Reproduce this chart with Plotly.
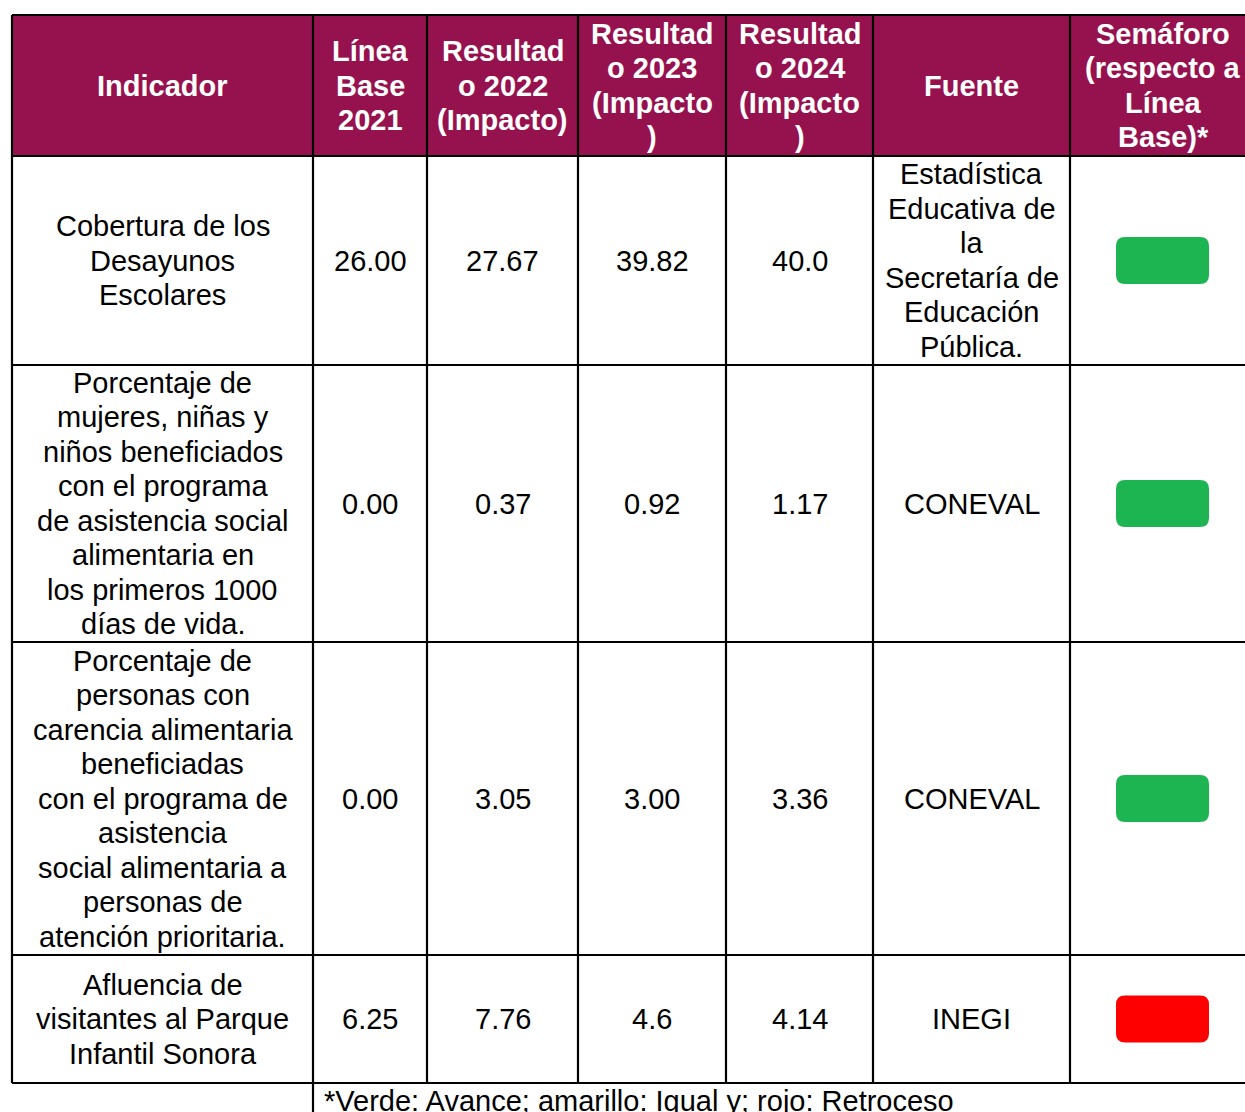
import plotly.graph_objects as go

# ---------------- data ----------------
headers = [
    "Indicador",
    "Línea<br>Base<br>2021",
    "Resultad<br>o 2022<br>(Impacto)",
    "Resultad<br>o 2023<br>(Impacto<br>)",
    "Resultad<br>o 2024<br>(Impacto<br>)",
    "Fuente",
    "Semáforo<br>(respecto a<br>Línea<br>Base)*",
]
indicadores = [
    "Cobertura de los<br>Desayunos<br>Escolares",
    "Porcentaje de<br>mujeres, niñas y<br>niños beneficiados<br>con el programa<br>de asistencia social<br>alimentaria en<br>los primeros 1000<br>días de vida.",
    "Porcentaje de<br>personas con<br>carencia alimentaria<br>beneficiadas<br>con el programa de<br>asistencia<br>social alimentaria a<br>personas de<br>atención prioritaria.",
    "Afluencia de<br>visitantes al Parque<br>Infantil Sonora",
]
linea_base_2021 = ["26.00", "0.00", "0.00", "6.25"]
resultado_2022 = ["27.67", "0.37", "3.05", "7.76"]
resultado_2023 = ["39.82", "0.92", "3.00", "4.6"]
resultado_2024 = ["40.0", "1.17", "3.36", "4.14"]
fuente = [
    "Estadística<br>Educativa de<br>la<br>Secretaría de<br>Educación<br>Pública.",
    "CONEVAL",
    "CONEVAL",
    "INEGI",
]
semaforo = ["verde", "verde", "verde", "rojo"]
nota = "*Verde: Avance; amarillo: Igual y; rojo: Retroceso"

# ---------------- layout / style ----------------
W, H = 1245, 1112
col_edges = [12, 313, 427, 578, 726, 873, 1070, 1256]
row_edges = [15, 156, 365, 642, 955, 1083]
header_color = "#96124F"
sem_colors = {"verde": "#1DB551", "amarillo": "#FFC000", "rojo": "#FF0000"}
FONT = "Liberation Sans, Arial, sans-serif"
FS = 29
LINE = 34.5
LW = 2.2

fig = go.Figure()
fig.add_trace(go.Scatter(x=[0, W], y=[0, H], mode="markers",
                         marker=dict(opacity=0), hoverinfo="skip", showlegend=False))

shapes = []
annotations = []


def add_text(text, cx, cy, color, bold=False):
    lines = text.split("<br>")
    n = len(lines)
    for i, ln in enumerate(lines):
        y = cy + (i - (n - 1) / 2) * LINE
        t = "<b>" + ln + "</b>" if bold else ln
        annotations.append(dict(x=cx, y=y, xref="x", yref="y", text=t,
                                showarrow=False, xanchor="center", yanchor="middle",
                                align="center",
                                font=dict(family=FONT, size=FS, color=color)))


# header background
shapes.append(dict(type="rect", xref="x", yref="y", x0=col_edges[0], x1=col_edges[-1],
                   y0=row_edges[0], y1=row_edges[1], fillcolor=header_color,
                   line=dict(width=0), layer="below"))

# header text
for i, h in enumerate(headers):
    cx = (col_edges[i] + col_edges[i + 1]) / 2
    cy = (row_edges[0] + row_edges[1]) / 2
    add_text(h, cx, cy, "white", bold=True)

# body text
columns = [indicadores, linea_base_2021, resultado_2022, resultado_2023, resultado_2024, fuente]
for r in range(len(indicadores)):
    cy = (row_edges[r + 1] + row_edges[r + 2]) / 2
    for c, col in enumerate(columns):
        cx = (col_edges[c] + col_edges[c + 1]) / 2
        add_text(col[r], cx, cy, "black")
    # semaforo rounded box
    cx = (col_edges[6] + col_edges[7]) / 2 - 0.5
    bw, bh, rad = 93, 47, 9
    x0, x1 = cx - bw / 2, cx + bw / 2
    y0, y1 = cy - bh / 2, cy + bh / 2
    path = (f"M {x0+rad},{y0} L {x1-rad},{y0} Q {x1},{y0} {x1},{y0+rad} "
            f"L {x1},{y1-rad} Q {x1},{y1} {x1-rad},{y1} L {x0+rad},{y1} "
            f"Q {x0},{y1} {x0},{y1-rad} L {x0},{y0+rad} Q {x0},{y0} {x0+rad},{y0} Z")
    shapes.append(dict(type="path", xref="x", yref="y", path=path,
                       fillcolor=sem_colors[semaforo[r]], line=dict(width=0)))

# grid lines
for y in row_edges:
    shapes.append(dict(type="line", xref="x", yref="y", x0=col_edges[0], x1=col_edges[-1],
                       y0=y, y1=y, line=dict(color="black", width=LW)))
for x in col_edges:
    shapes.append(dict(type="line", xref="x", yref="y", x0=x, x1=x,
                       y0=row_edges[0], y1=row_edges[-1], line=dict(color="black", width=LW)))
# footnote cell left border
shapes.append(dict(type="line", xref="x", yref="y", x0=col_edges[1], x1=col_edges[1],
                   y0=row_edges[-1], y1=H + 20, line=dict(color="black", width=LW)))

annotations.append(dict(x=col_edges[1] + 9, y=row_edges[-1] + 18, xref="x", yref="y",
                        text=nota, showarrow=False, xanchor="left", yanchor="middle",
                        align="left", font=dict(family=FONT, size=FS, color="black")))

fig.update_layout(
    width=W, height=H, margin=dict(l=0, r=0, t=0, b=0),
    plot_bgcolor="white", paper_bgcolor="white",
    xaxis=dict(range=[0, W], visible=False, fixedrange=True),
    yaxis=dict(range=[H, 0], visible=False, fixedrange=True),
    shapes=shapes, annotations=annotations, showlegend=False,
)

fig.write_html("out.html", config={"displayModeBar": False},
               post_script="document.body.style.margin='0';document.body.style.overflow='hidden';")
